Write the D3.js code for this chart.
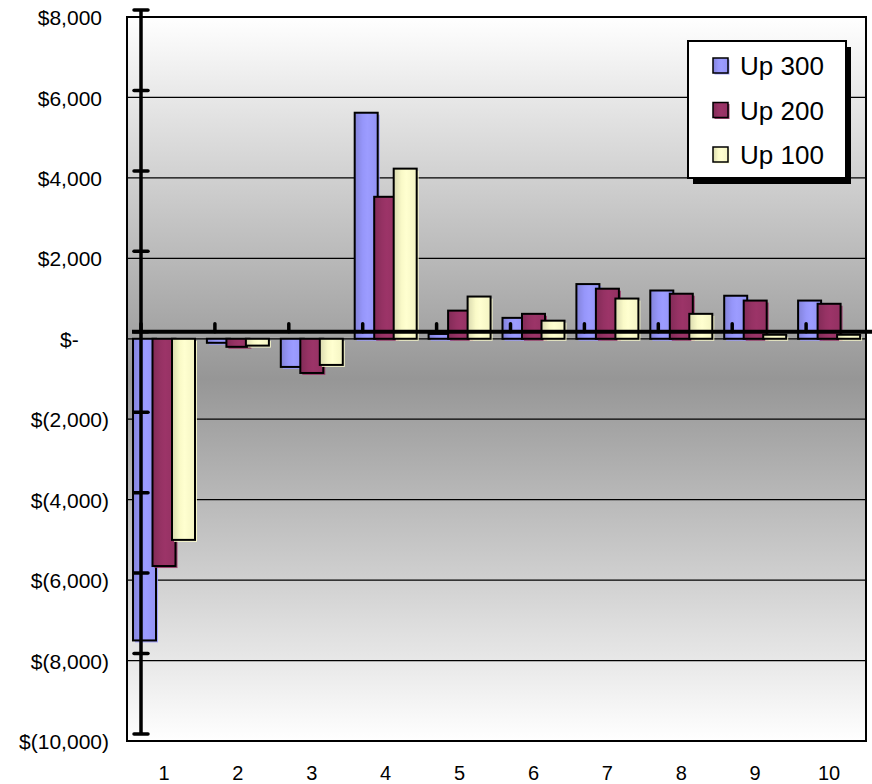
<!DOCTYPE html>
<html>
<head>
<meta charset="utf-8">
<script src="https://cdn.jsdelivr.net/npm/d3@7"></script>
<style>
  body { margin: 0; background: #fff; }
  svg { display: block; font-family: "Liberation Sans", Arial, sans-serif; }
</style>
</head>
<body>
<svg id="chart" width="872" height="784"></svg>
<script>
// Categories and series values
const categories = ["1", "2", "3", "4", "5", "6", "7", "8", "9", "10"];
const seriesNames = ["Up 300", "Up 200", "Up 100"];
const up300 = [-7500, -100, -700, 5620, 120, 520, 1360, 1200, 1070, 950];
const up200 = [-5650, -200, -850, 3530, 700, 620, 1245, 1120, 950, 870];
const up100 = [-5000, -170, -650, 4230, 1050, 450, 1000, 620, 100, 100];
const seriesColors = ["#9999ff", "#993366", "#ffffcc"];
const yTicks = [8000, 6000, 4000, 2000, 0, -2000, -4000, -6000, -8000, -10000];

const seriesValues = [up300, up200, up100];

const svg = d3.select("#chart");
const W = 872;
const plot = { left: 127, right: 866, top: 17, bottom: 741 };
const depth = { dx: 14, dy: -7 };   // offset of the axis plane

const x = d3.scaleBand().domain(categories).range([plot.left, plot.right]).padding(0);
const y = d3.scaleLinear().domain([-10000, 8000]).range([plot.bottom, plot.top]);

const defs = svg.append("defs");

// Plot background: white at the edges, gray toward the middle
const bg = defs.append("linearGradient").attr("id", "bg").attr("x1", 0).attr("y1", 0).attr("x2", 0).attr("y2", 1);
bg.append("stop").attr("offset", "0%").attr("stop-color", "#ffffff");
bg.append("stop").attr("offset", "50%").attr("stop-color", "#969696");
bg.append("stop").attr("offset", "100%").attr("stop-color", "#ffffff");

// Horizontal shading for each series
seriesColors.forEach((c, i) => {
  const g = defs.append("linearGradient").attr("id", "bar" + i).attr("x1", 0).attr("y1", 0).attr("x2", 1).attr("y2", 0);
  const base = d3.color(c);
  g.append("stop").attr("offset", "0%").attr("stop-color", base.darker(0.45));
  g.append("stop").attr("offset", "35%").attr("stop-color", base.darker(0.05));
  g.append("stop").attr("offset", "55%").attr("stop-color", base.brighter(0.05));
  g.append("stop").attr("offset", "100%").attr("stop-color", base.darker(0.12));
});

// Plot area
svg.append("rect")
  .attr("x", plot.left).attr("y", plot.top)
  .attr("width", plot.right - plot.left).attr("height", plot.bottom - plot.top)
  .attr("fill", "url(#bg)");

// Gridlines
svg.append("g").selectAll("line").data(yTicks).join("line")
  .attr("x1", plot.left).attr("x2", plot.right)
  .attr("y1", d => y(d)).attr("y2", d => y(d))
  .attr("stroke", "#000").attr("stroke-width", 1.2);

// Bars
const barW = 23, step = 19.5, groupPad = 6;
const bars = svg.append("g");
seriesValues.forEach((vals, si) => {
  const g = bars.append("g");
  const data = vals.map((v, ci) => ({ cat: categories[ci], v }));
  const bx = d => x(d.cat) + groupPad + si * step;
  const by = d => Math.min(y(d.v), y(0));
  const bh = d => Math.abs(y(d.v) - y(0));
  // soft drop edge
  g.selectAll("rect.sh").data(data).join("rect").attr("class", "sh")
    .attr("x", d => bx(d) + 2).attr("y", d => by(d) + 2)
    .attr("width", barW).attr("height", d => bh(d))
    .attr("fill", seriesColors[si]).attr("opacity", 0.85);
  g.selectAll("rect.bar").data(data).join("rect").attr("class", "bar")
    .attr("x", bx).attr("y", by)
    .attr("width", barW).attr("height", bh)
    .attr("fill", `url(#bar${si})`)
    .attr("stroke", "#000").attr("stroke-width", 2);
});

// Plot border
svg.append("rect")
  .attr("x", plot.left).attr("y", plot.top)
  .attr("width", plot.right - plot.left).attr("height", plot.bottom - plot.top)
  .attr("fill", "none").attr("stroke", "#000").attr("stroke-width", 2);

// Value axis line (set back in depth) with its tick marks
const axX = plot.left + depth.dx;
const vAxis = svg.append("g");
vAxis.append("line")
  .attr("x1", axX).attr("x2", axX)
  .attr("y1", y(8000) + depth.dy).attr("y2", y(-10000) + depth.dy)
  .attr("stroke", "#000").attr("stroke-width", 3.5);
vAxis.selectAll("line.t").data(yTicks).join("line").attr("class", "t")
  .attr("x1", axX - 7).attr("x2", axX + 7)
  .attr("y1", d => y(d) + depth.dy).attr("y2", d => y(d) + depth.dy)
  .attr("stroke", "#000").attr("stroke-width", 3.5).attr("stroke-linecap", "round");

// Category axis line at zero with tick marks between categories
const zeroY = y(0) + depth.dy;
const hAxis = svg.append("g");
hAxis.append("line")
  .attr("x1", plot.left + 5).attr("x2", W + 10)
  .attr("y1", zeroY).attr("y2", zeroY)
  .attr("stroke", "#000").attr("stroke-width", 4);
hAxis.selectAll("line.t").data(categories).join("line").attr("class", "t")
  .attr("x1", d => x(d) + depth.dx).attr("x2", d => x(d) + depth.dx)
  .attr("y1", zeroY).attr("y2", zeroY - 8)
  .attr("stroke", "#000").attr("stroke-width", 3.5).attr("stroke-linecap", "round");

// Value axis labels (accounting style: digits aligned, parentheses hang right)
const fs = 21;
const fmt = d => d === 0 ? "$-" : d < 0 ? "$(" + d3.format(",")(-d) + ")" : "$" + d3.format(",")(d);
const yAxisG = svg.append("g")
  .attr("transform", `translate(102,0)`)
  .call(d3.axisLeft(y).tickValues(yTicks).tickFormat(fmt).tickSize(0).tickPadding(0));
yAxisG.select(".domain").remove();
yAxisG.selectAll("text")
  .attr("font-size", fs).attr("font-family", "Liberation Sans, Arial, sans-serif").attr("fill", "#000")
  .attr("dy", "0.36em")
  .attr("x", d => d === 0 ? -2 * 0.556 * fs : d < 0 ? 0.333 * fs : 0);

// Category labels
const xAxisG = svg.append("g")
  .attr("transform", `translate(0,${plot.bottom})`)
  .call(d3.axisBottom(x).tickSize(0).tickPadding(0));
xAxisG.select(".domain").remove();
xAxisG.selectAll("text")
  .attr("font-size", 20).attr("font-family", "Liberation Sans, Arial, sans-serif").attr("fill", "#000")
  .attr("dy", "1.95em");

// Legend
const lg = { x: 688, y: 41, w: 158, h: 137 };
const legend = svg.append("g");
legend.append("rect").attr("x", lg.x + 5).attr("y", lg.y + 6).attr("width", lg.w).attr("height", lg.h).attr("fill", "#000");
legend.append("rect").attr("x", lg.x).attr("y", lg.y).attr("width", lg.w).attr("height", lg.h)
  .attr("fill", "#fff").attr("stroke", "#000").attr("stroke-width", 2);
const rowY = d3.scalePoint().domain(seriesNames).range([lg.y + 25, lg.y + 114]);
const items = legend.selectAll("g.item").data(seriesNames).join("g").attr("class", "item")
  .attr("transform", d => `translate(${lg.x + 25},${rowY(d)})`);
items.append("rect").attr("x", 1.5).attr("y", -6.5).attr("width", 15).attr("height", 15)
  .attr("fill", (d, i) => seriesColors[i]).attr("opacity", 0.9);
items.append("rect").attr("x", 0).attr("y", -8).attr("width", 15).attr("height", 15)
  .attr("fill", (d, i) => `url(#bar${i})`).attr("stroke", "#000").attr("stroke-width", 1.5);
items.append("text").attr("x", 27).attr("y", 0).attr("dy", "0.35em")
  .attr("font-size", 26).attr("fill", "#000").text(d => d);
</script>
</body>
</html>
